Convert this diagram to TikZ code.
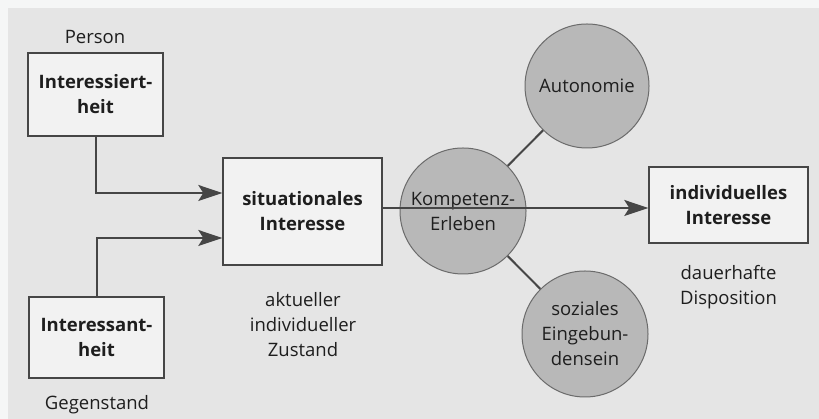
\documentclass[tikz,border=0pt]{standalone}
\usepackage{fontspec}
\setmainfont{Open Sans}
\usepackage{tikz}
\usepackage{xcolor}
\usetikzlibrary{arrows.meta, positioning, calc}
\definecolor{cPanel}{RGB}{229,229,229}
\definecolor{cEdge}{RGB}{245,246,246}
\definecolor{cBox}{RGB}{242,242,242}
\definecolor{cBall}{RGB}{184,184,184}
\definecolor{cLine}{RGB}{70,70,70}
\definecolor{cText}{RGB}{30,30,30}
\newcommand{\diagfont}{\fontsize{18.5}{25}\selectfont}
\tikzset{
	box/.style ={rectangle, draw=cLine, line width=1.4pt, fill=cBox, align=center, inner sep=0pt, font=\diagfont\bfseries},
	ball/.style={circle, draw=cLine!80, line width=1pt, fill=cBall, align=center, inner sep=0pt},
	lbl/.style ={align=center, inner sep=0pt},
	sig/.style ={-{Stealth[length=24pt, width=16pt, inset=5pt]}, line width=2pt, draw=cLine},
	link/.style={line width=2pt, draw=cLine},
}

\begin{document}
\begin{tikzpicture}[x=1pt, y=1pt, text=cText, font=\diagfont]
	\useasboundingbox (0,0) rectangle (819,419);
	\fill[cEdge] (0,0) rectangle (819,419);
	\fill[cPanel] (8,0) rectangle (819,411);
	% left column
	\node[lbl] (person) at (95,382) {Person};
	\node[box, minimum width=135pt, minimum height=83pt] (interessiertheit) at (95.5,324.5) {Interessiert-\\heit};
	\node[box, minimum width=135pt, minimum height=81pt] (interessantheit) at (96.5,81.5) {Interessant-\\heit};
	\node[lbl] (gegenstand) at (97,14) {Gegenstand};
	% middle
	\node[box, minimum width=159pt, minimum height=107pt] (situ) at (302.5,207.5) {situationales\\Interesse};
	\node[lbl] (zustand) at (303,94) {aktueller\\individueller\\Zustand};
	% needs
	\node[ball, minimum size=126pt] (kompetenz) at (463,208) {Kompetenz-\\Erleben};
	\node[ball, minimum size=124pt] (autonomie) at (587,333) {Autonomie};
	\node[ball, minimum size=126pt] (sozial) at (585,85) {soziales\\Eingebun-\\densein};
	% right
	\node[box, minimum width=159pt, minimum height=76pt] (indiv) at (728.5,214) {individuelles\\Interesse};
	\node[lbl] (disposition) at (728.5,132) {dauerhafte\\Disposition};
	% connectors
	\draw[sig] (interessiertheit.south) |- ([yshift=18.5pt]situ.west);
	\draw[sig] (interessantheit.north) |- ([yshift=-26.5pt]situ.west);
	\draw[link] (kompetenz) -- (autonomie);
	\draw[link] (kompetenz) -- (sozial);
	\draw[sig] ([yshift=3.5pt]situ.east) -- ([yshift=-3pt]indiv.west);
\end{tikzpicture}
\end{document}
